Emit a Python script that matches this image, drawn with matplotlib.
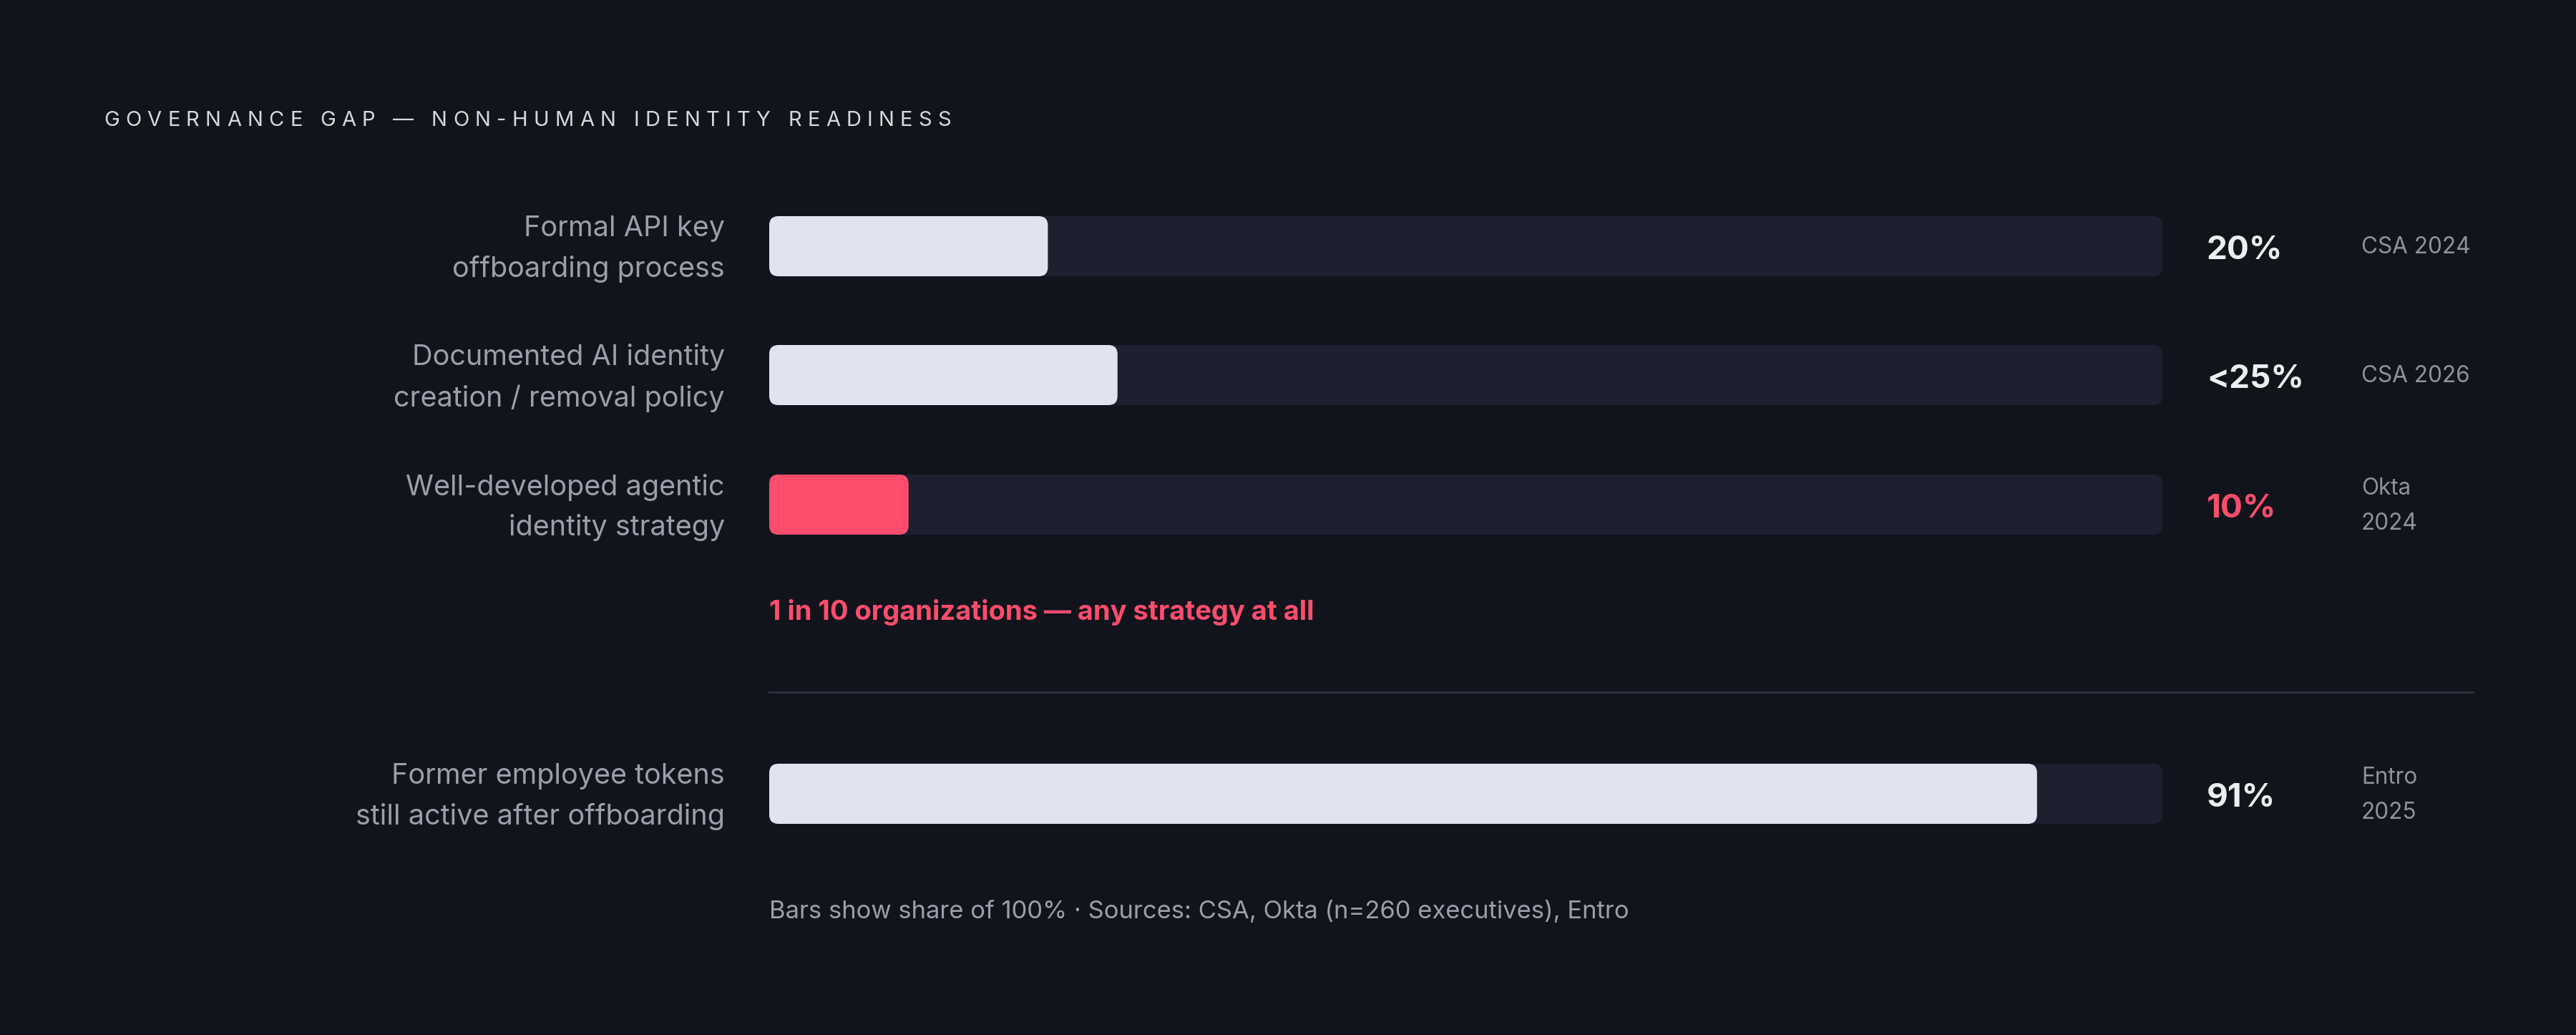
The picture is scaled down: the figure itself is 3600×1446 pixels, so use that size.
import matplotlib
matplotlib.use("Agg")
import matplotlib.pyplot as plt
from matplotlib.patches import FancyBboxPatch

# ---- data ----
labels = [
    "Formal API key\noffboarding process",
    "Documented AI identity\ncreation / removal policy",
    "Well-developed agentic\nidentity strategy",
    "Former employee tokens\nstill active after offboarding",
]
values = [20, 25, 10, 91]
value_text = ["20%", "<25%", "10%", "91%"]
sources = ["CSA 2024", "CSA 2026", "Okta\n2024", "Entro\n2025"]
highlight = [False, False, True, False]

title = "GOVERNANCE GAP \u2014 NON-HUMAN IDENTITY READINESS"
callout = "1 in 10 organizations \u2014 any strategy at all"
footnote = "Bars show share of 100% \u00b7 Sources: CSA, Okta (n=260 executives), Entro"

# ---- style ----
BG = "#11141c"
TRACK = "#1e2030"
FILL = "#e1e3ee"
RED = "#ff4d6d"
LABEL = "#9c9ea9"
SRC = "#8f919c"
VALUE = "#eceef5"
RULE = "#2c2e3d"
TITLE = "#d6d8e1"
FONT = ["Inter", "DejaVu Sans"]

W, H = 3600, 1446
DPI = 100
row_y = [344, 524, 705, 1109]   # px from top
bar_h = 84
radius = 13
track_x0, track_x1 = 1075, 3022

plt.rcParams["font.family"] = FONT

fig = plt.figure(figsize=(W / DPI, H / DPI), dpi=DPI, facecolor=BG)

# overlay axes in pixel coordinates for the text
tx = fig.add_axes([0, 0, 1, 1])
tx.set_xlim(0, W)
tx.set_ylim(H, 0)
tx.axis("off")

# bar axes: x is share of 100 %
ax = fig.add_axes([track_x0 / W, 0, (track_x1 - track_x0) / W, 1])
ax.set_xlim(0, 100)
ax.set_ylim(H, 0)
ax.axis("off")
ax.patch.set_alpha(0)

xu = 100 / (track_x1 - track_x0)   # x data units per pixel
aspect = 1 / xu


def rbar(x0, width, yc, color):
    p = FancyBboxPatch((x0, yc - bar_h / 2), width, bar_h,
                       boxstyle=f"round,pad=0,rounding_size={radius * xu}",
                       mutation_aspect=aspect, fc=color, ec="none",
                       clip_on=False)
    ax.add_patch(p)


for lab, v, vt, src, hi, y in zip(labels, values, value_text, sources, highlight, row_y):
    rbar(0, 100, y, TRACK)
    rbar(0, v, y, RED if hi else FILL)
    tx.text(1013, y + 4, lab, ha="right", va="center", fontsize=28.5,
            color=LABEL, linespacing=1.62)
    tx.text(3084, y + 6, vt, ha="left", va="center", fontsize=33,
            fontweight="bold", color=RED if hi else VALUE)
    tx.text(3300, y + 2, src, ha="left", va="center", fontsize=22.7,
            color=SRC, linespacing=1.78)

tx.text(track_x0, 856, callout, ha="left", va="center", fontsize=27.4,
        fontweight="bold", color=RED)
tx.plot([track_x0, 3456], [967, 967], color=RULE, lw=2.2)
tx.text(track_x0, 1274, footnote, ha="left", va="center", fontsize=24.9,
        color=LABEL)

# letter-spaced title, one glyph at a time
fig.canvas.draw()
renderer = fig.canvas.get_renderer()
title_w = 1184
glyphs = []
widths = []
for ch in title:
    t = tx.text(0, 168, ch, ha="left", va="center", fontsize=21, color=TITLE)
    bb = t.get_window_extent(renderer)
    w = bb.width if ch != " " else 21 * DPI / 72 * 0.28
    glyphs.append(t)
    widths.append(w)
gap = (title_w - sum(widths)) / (len(title) - 1)
x = 145
for t, w in zip(glyphs, widths):
    t.set_x(x)
    x += w + gap

fig.savefig("out.png", dpi=DPI, facecolor=BG)
